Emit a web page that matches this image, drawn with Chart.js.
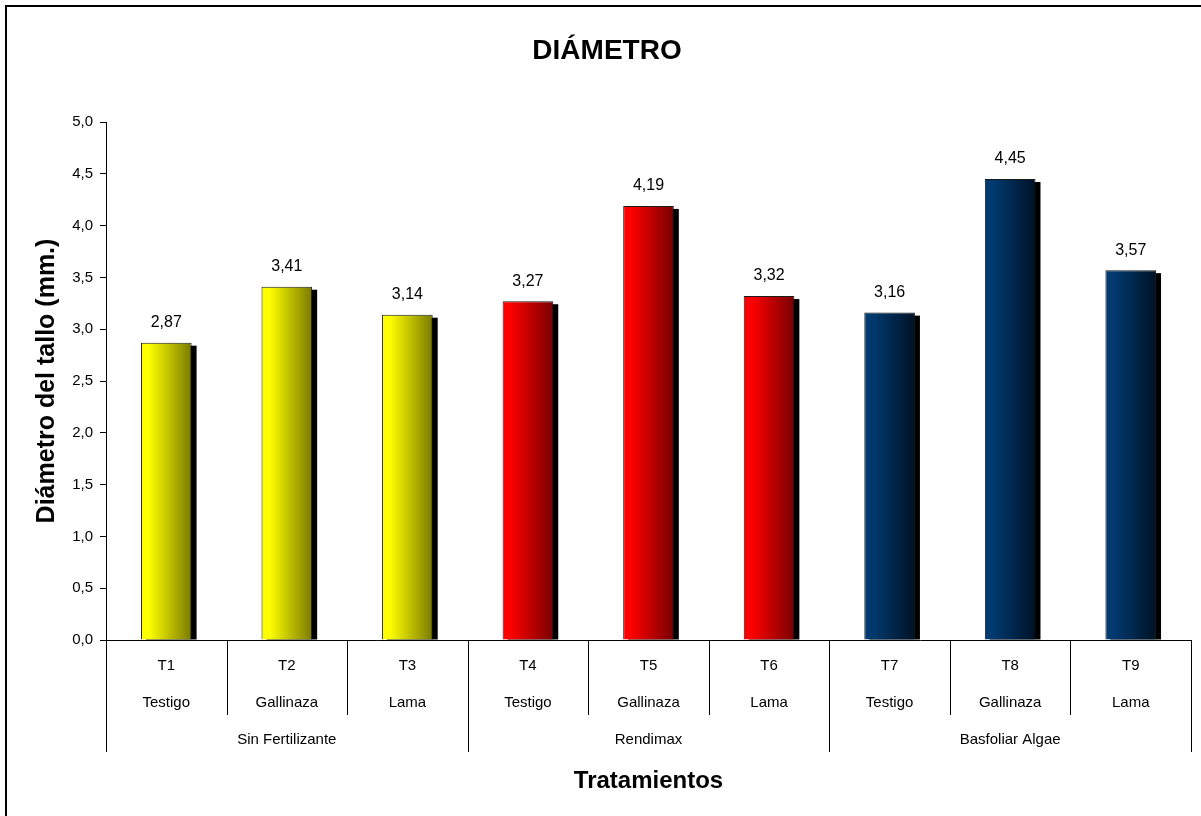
<!DOCTYPE html>
<html>
<head>
<meta charset="utf-8">
<title>Diámetro</title>
<script src="https://cdn.jsdelivr.net/npm/chart.js@4/dist/chart.umd.min.js"></script>
<style>
  html, body { margin: 0; padding: 0; background: #fff; }
  #wrap { position: relative; width: 1201px; height: 816px; }
</style>
</head>
<body>
<div id="wrap"><canvas id="chart"></canvas></div>
<script>
// Data
const codes = ["T1", "T2", "T3", "T4", "T5", "T6", "T7", "T8", "T9"]
const treatments = ["Testigo", "Gallinaza", "Lama", "Testigo", "Gallinaza", "Lama", "Testigo", "Gallinaza", "Lama"]
const groups = ["Sin Fertilizante", "Rendimax", "Basfoliar Algae"]
const diameters = [2.87, 3.41, 3.14, 3.27, 4.19, 3.32, 3.16, 4.45, 3.57]

// colour ramps per group: [left, right]
const groupColors = [
  ["#ffff00", "#7a7a00"],
  ["#ff0000", "#780000"],
  ["#003a70", "#001226"],
]

const FONT = "Arial, 'Liberation Sans', sans-serif"
const fmt = (v, d) => v.toFixed(d).replace(".", ",")
const BAR_PCT = 0.42

// gradient fill per bar, built from the x scale
function barFill(context) {
  const chart = context.chart
  const i = context.dataIndex
  const pair = groupColors[Math.floor(i / 3)]
  const xs = chart.scales.x
  if (!xs || !chart.chartArea) return pair[0]
  const cx = xs.getPixelForValue(i)
  const w = (xs.width / codes.length) * BAR_PCT
  const g = chart.ctx.createLinearGradient(cx - w / 2, 0, cx + w / 2, 0)
  g.addColorStop(0, pair[0])
  g.addColorStop(0.15, pair[0])
  g.addColorStop(1, pair[1])
  return g
}

// Shadows behind the bars
const shadowPlugin = {
  id: "shadows",
  beforeDatasetsDraw(chart) {
    const ctx = chart.ctx
    const meta = chart.getDatasetMeta(0)
    ctx.save()
    ctx.fillStyle = "#000"
    meta.data.forEach((bar) => {
      const w = bar.width
      ctx.fillRect(bar.x - w / 2 + 5, bar.y + 3, w, bar.base - bar.y - 3)
    })
    ctx.restore()
  },
}

// value labels, title, category labels and separators
const decorPlugin = {
  id: "decor",
  afterDatasetsDraw(chart) {
    const ctx = chart.ctx
    const meta = chart.getDatasetMeta(0)
    ctx.save()
    ctx.fillStyle = "#000"
    ctx.textAlign = "center"
    ctx.textBaseline = "middle"
    ctx.font = "16px " + FONT
    meta.data.forEach((bar, i) => {
      ctx.fillText(fmt(diameters[i], 2), bar.x, bar.y - 20)
    })
    ctx.restore()
  },
  afterDraw(chart) {
    const ctx = chart.ctx
    const xs = chart.scales.x
    const area = chart.chartArea
    const step = xs.width / codes.length
    ctx.save()

    // outer frame
    ctx.strokeStyle = "#000"
    ctx.lineWidth = 2
    ctx.strokeRect(6, 6, 1240, 860)

    // title
    ctx.fillStyle = "#000"
    ctx.textAlign = "center"
    ctx.textBaseline = "alphabetic"
    ctx.font = "bold 28px " + FONT
    ctx.fillText("DIÁMETRO", 607, 59)

    // separators
    ctx.lineWidth = 1
    ctx.beginPath()
    for (let k = 0; k <= codes.length; k++) {
      const x = Math.round(xs.left + k * step) + 0.5
      const long = k % 3 === 0
      ctx.moveTo(x, area.bottom)
      ctx.lineTo(x, area.bottom + (long ? 112 : 75))
    }
    ctx.stroke()

    // labels
    ctx.textBaseline = "middle"
    ctx.font = "15px " + FONT
    codes.forEach((c, i) => {
      const x = xs.getPixelForValue(i)
      ctx.fillText(c, x, area.bottom + 26)
      ctx.fillText(treatments[i], x, area.bottom + 63)
    })
    groups.forEach((g, j) => {
      const x = xs.left + (j * 3 + 1.5) * step
      ctx.fillText(g, x, area.bottom + 100)
    })
    ctx.restore()
  },
}

new Chart(document.getElementById("chart"), {
  type: "bar",
  data: {
    labels: codes,
    datasets: [
      {
        data: diameters,
        backgroundColor: barFill,
        borderColor: "#1a1a1a",
        borderWidth: 1,
        categoryPercentage: 1,
        barPercentage: BAR_PCT,
      },
    ],
  },
  options: {
    responsive: true,
    maintainAspectRatio: false,
    animation: false,
    layout: { padding: { top: 122, right: 10, left: 0, bottom: 0 } },
    plugins: { legend: { display: false }, tooltip: { enabled: false } },
    scales: {
      x: {
        afterFit: (s) => { s.height = 176 },
        grid: { display: false },
        border: { color: "#000", width: 1 },
        ticks: { display: false },
        title: {
          display: true,
          text: "Tratamientos",
          color: "#000",
          font: { family: FONT, size: 24, weight: "bold" },
          padding: { bottom: 20 },
        },
      },
      y: {
        min: 0,
        max: 5,
        afterFit: (s) => { s.width = 106 },
        ticks: {
          stepSize: 0.5,
          color: "#000",
          padding: 7,
          font: { family: FONT, size: 15 },
          callback: (v) => fmt(v, 1),
        },
        grid: { drawOnChartArea: false, drawTicks: true, tickLength: 6, color: "#000" },
        border: { color: "#000", width: 1 },
        title: {
          display: true,
          text: "Diámetro del tallo (mm.)",
          color: "#000",
          font: { family: FONT, size: 25, weight: "bold" },
          padding: { top: 32 },
        },
      },
    },
  },
  plugins: [shadowPlugin, decorPlugin],
})
</script>
</body>
</html>
